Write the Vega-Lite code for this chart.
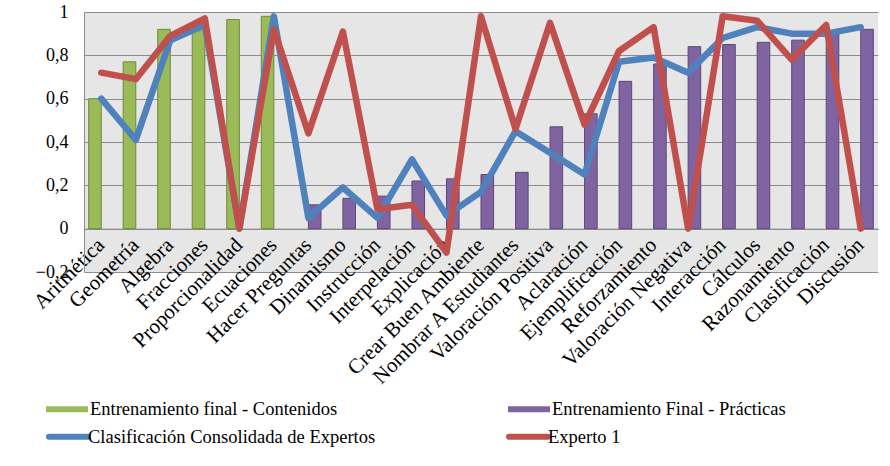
{
  "$schema": "https://vega.github.io/schema/vega-lite/v6.json",
  "width": 794,
  "height": 260,
  "autosize": {"type": "none"},
  "padding": {"left": 84, "top": 12, "right": 12, "bottom": 194},
  "background": "#ffffff",
  "config": {
    "view": {"fill": "#e6e6e6", "stroke": null},
    "font": "Liberation Serif, DejaVu Serif, serif",
    "axis": {"labelFont": "Liberation Serif, DejaVu Serif, serif", "labelColor": "#000000", "labelFontSize": 18},
    "legend": {"labelFont": "Liberation Serif, DejaVu Serif, serif", "labelLimit": 500}
  },
  "data": {
    "values": [
      {"cat": "Aritmética", "serie": "Entrenamiento final - Contenidos", "v": 0.6},
      {"cat": "Geometría", "serie": "Entrenamiento final - Contenidos", "v": 0.77},
      {"cat": "Algebra", "serie": "Entrenamiento final - Contenidos", "v": 0.92},
      {"cat": "Fracciones", "serie": "Entrenamiento final - Contenidos", "v": 0.94},
      {"cat": "Proporcionalidad", "serie": "Entrenamiento final - Contenidos", "v": 0.965},
      {"cat": "Ecuaciones", "serie": "Entrenamiento final - Contenidos", "v": 0.98},
      {"cat": "Hacer Preguntas", "serie": "Entrenamiento Final - Prácticas", "v": 0.11},
      {"cat": "Dinamismo", "serie": "Entrenamiento Final - Prácticas", "v": 0.14},
      {"cat": "Instrucción", "serie": "Entrenamiento Final - Prácticas", "v": 0.15},
      {"cat": "Interpelación", "serie": "Entrenamiento Final - Prácticas", "v": 0.22},
      {"cat": "Explicación", "serie": "Entrenamiento Final - Prácticas", "v": 0.23},
      {"cat": "Crear Buen Ambiente", "serie": "Entrenamiento Final - Prácticas", "v": 0.25},
      {"cat": "Nombrar A Estudiantes", "serie": "Entrenamiento Final - Prácticas", "v": 0.26},
      {"cat": "Valoración Positiva", "serie": "Entrenamiento Final - Prácticas", "v": 0.47},
      {"cat": "Aclaración", "serie": "Entrenamiento Final - Prácticas", "v": 0.53},
      {"cat": "Ejemplificación", "serie": "Entrenamiento Final - Prácticas", "v": 0.68},
      {"cat": "Reforzamiento", "serie": "Entrenamiento Final - Prácticas", "v": 0.76},
      {"cat": "Valoración Negativa", "serie": "Entrenamiento Final - Prácticas", "v": 0.84},
      {"cat": "Interacción", "serie": "Entrenamiento Final - Prácticas", "v": 0.85},
      {"cat": "Cálculos", "serie": "Entrenamiento Final - Prácticas", "v": 0.86},
      {"cat": "Razonamiento", "serie": "Entrenamiento Final - Prácticas", "v": 0.87},
      {"cat": "Clasificación", "serie": "Entrenamiento Final - Prácticas", "v": 0.9},
      {"cat": "Discusión", "serie": "Entrenamiento Final - Prácticas", "v": 0.92},

      {"cat": "Aritmética", "serie": "Clasificación Consolidada de Expertos", "v": 0.6},
      {"cat": "Geometría", "serie": "Clasificación Consolidada de Expertos", "v": 0.41},
      {"cat": "Algebra", "serie": "Clasificación Consolidada de Expertos", "v": 0.87},
      {"cat": "Fracciones", "serie": "Clasificación Consolidada de Expertos", "v": 0.94},
      {"cat": "Proporcionalidad", "serie": "Clasificación Consolidada de Expertos", "v": 0},
      {"cat": "Ecuaciones", "serie": "Clasificación Consolidada de Expertos", "v": 0.98},
      {"cat": "Hacer Preguntas", "serie": "Clasificación Consolidada de Expertos", "v": 0.05},
      {"cat": "Dinamismo", "serie": "Clasificación Consolidada de Expertos", "v": 0.19},
      {"cat": "Instrucción", "serie": "Clasificación Consolidada de Expertos", "v": 0.05},
      {"cat": "Interpelación", "serie": "Clasificación Consolidada de Expertos", "v": 0.32},
      {"cat": "Explicación", "serie": "Clasificación Consolidada de Expertos", "v": 0.06},
      {"cat": "Crear Buen Ambiente", "serie": "Clasificación Consolidada de Expertos", "v": 0.17},
      {"cat": "Nombrar A Estudiantes", "serie": "Clasificación Consolidada de Expertos", "v": 0.45},
      {"cat": "Valoración Positiva", "serie": "Clasificación Consolidada de Expertos", "v": 0.35},
      {"cat": "Aclaración", "serie": "Clasificación Consolidada de Expertos", "v": 0.25},
      {"cat": "Ejemplificación", "serie": "Clasificación Consolidada de Expertos", "v": 0.77},
      {"cat": "Reforzamiento", "serie": "Clasificación Consolidada de Expertos", "v": 0.79},
      {"cat": "Valoración Negativa", "serie": "Clasificación Consolidada de Expertos", "v": 0.72},
      {"cat": "Interacción", "serie": "Clasificación Consolidada de Expertos", "v": 0.88},
      {"cat": "Cálculos", "serie": "Clasificación Consolidada de Expertos", "v": 0.93},
      {"cat": "Razonamiento", "serie": "Clasificación Consolidada de Expertos", "v": 0.9},
      {"cat": "Clasificación", "serie": "Clasificación Consolidada de Expertos", "v": 0.9},
      {"cat": "Discusión", "serie": "Clasificación Consolidada de Expertos", "v": 0.93},

      {"cat": "Aritmética", "serie": "Experto 1", "v": 0.72},
      {"cat": "Geometría", "serie": "Experto 1", "v": 0.69},
      {"cat": "Algebra", "serie": "Experto 1", "v": 0.89},
      {"cat": "Fracciones", "serie": "Experto 1", "v": 0.97},
      {"cat": "Proporcionalidad", "serie": "Experto 1", "v": 0},
      {"cat": "Ecuaciones", "serie": "Experto 1", "v": 0.92},
      {"cat": "Hacer Preguntas", "serie": "Experto 1", "v": 0.44},
      {"cat": "Dinamismo", "serie": "Experto 1", "v": 0.91},
      {"cat": "Instrucción", "serie": "Experto 1", "v": 0.09},
      {"cat": "Interpelación", "serie": "Experto 1", "v": 0.11},
      {"cat": "Explicación", "serie": "Experto 1", "v": -0.11},
      {"cat": "Crear Buen Ambiente", "serie": "Experto 1", "v": 0.98},
      {"cat": "Nombrar A Estudiantes", "serie": "Experto 1", "v": 0.46},
      {"cat": "Valoración Positiva", "serie": "Experto 1", "v": 0.95},
      {"cat": "Aclaración", "serie": "Experto 1", "v": 0.48},
      {"cat": "Ejemplificación", "serie": "Experto 1", "v": 0.82},
      {"cat": "Reforzamiento", "serie": "Experto 1", "v": 0.93},
      {"cat": "Valoración Negativa", "serie": "Experto 1", "v": 0},
      {"cat": "Interacción", "serie": "Experto 1", "v": 0.98},
      {"cat": "Cálculos", "serie": "Experto 1", "v": 0.96},
      {"cat": "Razonamiento", "serie": "Experto 1", "v": 0.78},
      {"cat": "Clasificación", "serie": "Experto 1", "v": 0.94},
      {"cat": "Discusión", "serie": "Experto 1", "v": 0}
    ]
  },
  "encoding": {
    "x": {
      "field": "cat",
      "type": "nominal",
      "title": null,
      "scale": {
        "domain": ["Aritmética", "Geometría", "Algebra", "Fracciones", "Proporcionalidad", "Ecuaciones", "Hacer Preguntas", "Dinamismo", "Instrucción", "Interpelación", "Explicación", "Crear Buen Ambiente", "Nombrar A Estudiantes", "Valoración Positiva", "Aclaración", "Ejemplificación", "Reforzamiento", "Valoración Negativa", "Interacción", "Cálculos", "Razonamiento", "Clasificación", "Discusión"],
        "paddingInner": 0.27,
        "paddingOuter": 0.135
      },
      "axis": {
        "offset": -43.33,
        "domainColor": "#8c8c8c",
        "domainWidth": 1,
        "ticks": false,
        "labelAngle": -45,
        "labelAlign": "right",
        "labelBaseline": "middle",
        "labelPadding": 13,
        "labelOverlap": false,
        "labelBound": false,
        "labelLimit": 400,
        "labelFontSize": 21
      }
    },
    "y": {
      "field": "v",
      "type": "quantitative",
      "title": null,
      "scale": {"domain": [-0.2, 1], "nice": false, "zero": false},
      "axis": {
        "values": [-0.2, 0, 0.2, 0.4, 0.6, 0.8, 1],
        "labelExpr": "replace(format(datum.value, '.1~f'), '.', ',')",
        "grid": true,
        "gridColor": "#8c8c8c",
        "gridWidth": 1,
        "domainColor": "#8c8c8c",
        "ticks": false,
        "labelPadding": 16,
        "labelFontSize": 18
      }
    }
  },
  "layer": [
    {
      "transform": [{"filter": "indexof(datum.serie, 'Entrenamiento') === 0"}],
      "mark": {"type": "bar", "strokeWidth": 1},
      "encoding": {
        "xOffset": {
          "field": "serie",
          "type": "nominal",
          "scale": {"domain": ["Entrenamiento final - Contenidos", "Entrenamiento Final - Prácticas"], "paddingInner": 0, "paddingOuter": 0}
        },
        "fill": {
          "field": "serie",
          "type": "nominal",
          "scale": {"domain": ["Entrenamiento final - Contenidos", "Entrenamiento Final - Prácticas"], "range": ["#9bbb59", "#8064a2"]},
          "legend": {
            "title": null,
            "orient": "none",
            "direction": "horizontal",
            "columns": 2,
            "columnPadding": 170,
            "legendX": -38,
            "legendY": 376,
            "symbolType": "M-1,-0.14H1V0.14H-1Z",
            "symbolSize": 1764,
            "symbolStrokeWidth": 0,
            "labelFont": "Liberation Serif, DejaVu Serif, serif",
            "labelFontSize": 18.5,
            "labelLimit": 500,
            "labelColor": "#000000",
            "labelOffset": 2
          }
        },
        "stroke": {
          "condition": {"test": "datum.serie === 'Entrenamiento final - Contenidos'", "value": "#71893f"},
          "value": "#5c4776"
        }
      }
    },
    {
      "transform": [{"filter": "indexof(datum.serie, 'Entrenamiento') !== 0"}],
      "mark": {"type": "line", "strokeWidth": 6.5, "strokeCap": "round", "strokeJoin": "round"},
      "encoding": {
        "stroke": {
          "field": "serie",
          "type": "nominal",
          "sort": ["Clasificación Consolidada de Expertos", "Experto 1"],
          "scale": {"domain": ["Clasificación Consolidada de Expertos", "Experto 1"], "range": ["#4f81bd", "#c0504d"]},
          "legend": {
            "title": null,
            "orient": "none",
            "direction": "horizontal",
            "columns": 2,
            "columnPadding": 121,
            "legendX": -38,
            "legendY": 402,
            "symbolType": "stroke",
            "symbolSize": 1521,
            "symbolStrokeWidth": 6,
            "labelFont": "Liberation Serif, DejaVu Serif, serif",
            "labelFontSize": 18.5,
            "labelLimit": 500,
            "labelColor": "#000000",
            "labelOffset": -3,
            "encode": {"symbols": {"update": {"strokeCap": {"value": "round"}}}}
          }
        }
      }
    }
  ]
}
